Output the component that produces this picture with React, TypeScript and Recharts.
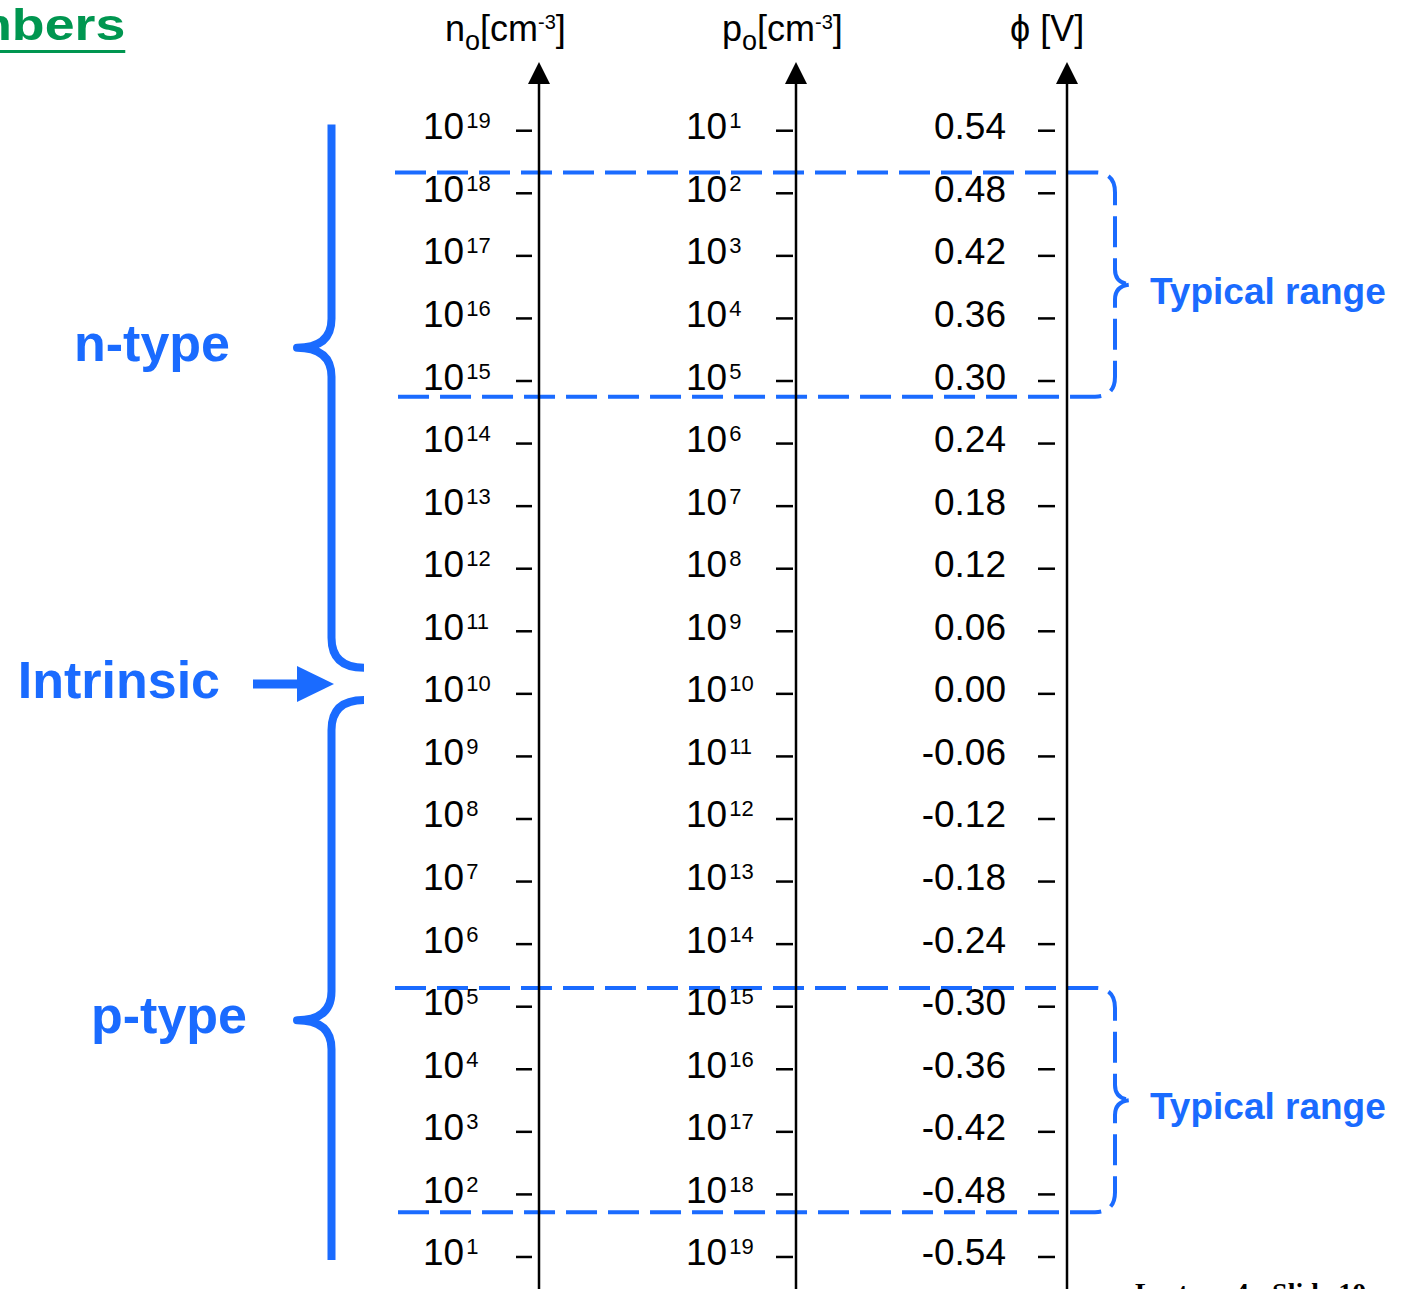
import React from 'react'
import { ComposedChart, XAxis, YAxis, ReferenceArea, ReferenceDot, Scatter } from 'recharts'

// ------------------------------------------------------------
// Equilibrium carrier numbers vs. potential: three parallel scales
// (n0, p0 and phi) sharing one vertical axis, plus the typical
// doping ranges and the n-type / p-type braces.
// ------------------------------------------------------------

// Tick columns, read top to bottom.
const N_EXPONENTS = [19, 18, 17, 16, 15, 14, 13, 12, 11, 10, 9, 8, 7, 6, 5, 4, 3, 2, 1]
const P_EXPONENTS = [1, 2, 3, 4, 5, 6, 7, 8, 9, 10, 11, 12, 13, 14, 15, 16, 17, 18, 19]
const PHI_VALUES = [
  0.54, 0.48, 0.42, 0.36, 0.3, 0.24, 0.18, 0.12, 0.06, 0,
  -0.06, -0.12, -0.18, -0.24, -0.3, -0.36, -0.42, -0.48, -0.54,
]

// Dashed "typical range" bands, in volts.
const TYPICAL_RANGES = [
  { from: 0.285, to: 0.5 },
  { from: -0.497, to: -0.282 },
]

// Doping-type braces, in volts: top end, tip, bottom end.
const DOPING_BRACES = [
  { label: 'n-type', top: 0.546, tip: 0.332, bottom: 0.025, curl: 'bottom' },
  { label: 'p-type', top: -0.006, tip: -0.313, bottom: -0.543, curl: 'top' },
]

const INTRINSIC_PHI = 0.0095

// ---- layout ----
const W = 1405
const H = 1289
const TOP = 70
const ROW_PX = 62.57
const ZERO_PX = 693.85
const AXIS_X = { n: 539, p: 796, phi: 1067 }
const RANGE_X = [395, 1115]
const RANGE_LABEL_X = 1150
const BRACE_X = [297, 364]
const ARROW_TIP_X = 334
const LABEL_GAP: Record<string, number> = { 'n-type': 67, 'p-type': 50 }

const BLUE = '#1A6BFF'
const GREEN = '#009650'
const FONT = '"Liberation Sans", Arial, Helvetica, sans-serif'

const PHI_STEP = PHI_VALUES[0] - PHI_VALUES[1]
const MID_EXP = N_EXPONENTS[PHI_VALUES.indexOf(0)]
const rowsAbove = (ZERO_PX - TOP) / ROW_PX
const rowsBelow = (H - ZERO_PX) / ROW_PX
const PHI_DOMAIN = [-rowsBelow * PHI_STEP, rowsAbove * PHI_STEP]
const N_DOMAIN = [MID_EXP - rowsBelow, MID_EXP + rowsAbove]
const P_DOMAIN = [MID_EXP - rowsAbove, MID_EXP + rowsBelow] // drawn reversed

// Label anchors for the two bands (midpoint of each band).
const RANGE_LABELS = TYPICAL_RANGES.map((r) => ({ x: RANGE_LABEL_X, phi: (r.from + r.to) / 2 }))

// Recharts sorts left axes by id: the first id sits next to the plot area.
const ID_PHI = 'a-phi'
const ID_P = 'b-p'
const ID_N = 'c-n'

interface TickProps {
  x?: number
  y?: number
  payload?: { value: number }
}

function PowerTick({ x = 0, y = 0, payload, labelDx, dash }: TickProps & { labelDx: number; dash: [number, number] }) {
  return (
    <g>
      <text x={x + labelDx} y={y + 8.5} fontSize={37} fontFamily={FONT} fill="#000">
        10
        <tspan fontSize={22} dx={2} dy={-11}>{payload?.value}</tspan>
      </text>
      <line x1={x + dash[0]} x2={x + dash[1]} y1={y} y2={y} stroke="#000" strokeWidth={2.5} />
    </g>
  )
}

function PhiTick({ x = 0, y = 0, payload }: TickProps) {
  const v = payload?.value ?? 0
  return (
    <g>
      <text x={x - 61} y={y + 8.5} fontSize={37} fontFamily={FONT} fill="#000" textAnchor="end">
        {v.toFixed(2)}
      </text>
      <line x1={x - 29} x2={x - 12} y1={y} y2={y} stroke="#000" strokeWidth={2.5} />
    </g>
  )
}

/** Arrowhead on top of the axis line plus the column header. */
function AxisHead({ viewBox, kind, fallbackX }: { viewBox?: any; kind: 'n' | 'p' | 'phi'; fallbackX: number }) {
  const ax = viewBox ? viewBox.x + viewBox.width : fallbackX
  const top = viewBox ? viewBox.y : TOP
  const base = top + 14
  const tip = top - 8
  const headY = top - 29
  return (
    <g>
      <polygon points={`${ax - 11},${base} ${ax},${tip} ${ax + 11},${base}`} fill="#000" />
      {kind === 'phi' ? (
        <text x={ax - 57} y={headY} fontSize={36} fontFamily={FONT} fill="#000">
          ϕ [V]
        </text>
      ) : (
        <text x={ax + (kind === 'n' ? -94 : -74)} y={headY} fontSize={36} fontFamily={FONT} fill="#000">
          {kind}
          <tspan fontSize={27} dy={9}>o</tspan>
          <tspan dy={-9}>[cm</tspan>
          <tspan fontSize={20} dy={-12}>-3</tspan>
          <tspan dy={12}>]</tspan>
        </text>
      )}
    </g>
  )
}

function RangeBracket(props: any) {
  const { x, y, width, height } = props
  const left = x
  const right = x + width
  const top = y
  const bottom = y + height
  const mid = y + height / 2
  const r = 20
  const nr = 15
  const nw = 18
  const d = [
    `M${left},${top}`,
    `H${right - r}`,
    `Q${right},${top} ${right},${top + r}`,
    `V${mid - nr}`,
    `Q${right},${mid} ${right + nw},${mid}`,
    `Q${right},${mid} ${right},${mid + nr}`,
    `V${bottom - r}`,
    `Q${right},${bottom} ${right - r},${bottom}`,
    `H${left}`,
  ].join(' ')
  return <path d={d} fill="none" stroke={BLUE} strokeWidth={4} strokeDasharray="31 11" />
}

function RangeLabel({ cx = 0, cy = 0 }: { cx?: number; cy?: number }) {
  return (
    <text x={cx} y={cy + 19} fontSize={37} fontWeight="bold" fontFamily={FONT} fill={BLUE}>
      Typical range
    </text>
  )
}

function DopingBrace(props: any) {
  const { x, y, width, height, tipRatio, curl, label, labelGap } = props
  const xt = x
  const x0 = x + width
  const xv = x + 34.5
  const top = y
  const bottom = y + height
  const tipY = y + height * tipRatio
  const c = 29
  const d =
    curl === 'bottom'
      ? `M${xv},${top} V${tipY - c} Q${xv},${tipY} ${xt},${tipY} Q${xv},${tipY} ${xv},${tipY + c} V${bottom - 30} Q${xv},${bottom} ${x0},${bottom}`
      : `M${x0},${top} Q${xv},${top} ${xv},${top + 30} V${tipY - c} Q${xv},${tipY} ${xt},${tipY} Q${xv},${tipY} ${xv},${tipY + c} V${bottom}`
  return (
    <g>
      <path d={d} fill="none" stroke={BLUE} strokeWidth={8} strokeLinejoin="round" />
      <text x={xt - labelGap} y={tipY + 13} textAnchor="end" fontSize={52} fontWeight="bold" fontFamily={FONT} fill={BLUE}>
        {label}
      </text>
    </g>
  )
}

function IntrinsicArrow({ cx = 0, cy = 0 }: { cx?: number; cy?: number }) {
  return (
    <g>
      <line x1={cx - 81} x2={cx - 35} y1={cy} y2={cy} stroke={BLUE} strokeWidth={9} />
      <polygon points={`${cx - 37},${cy - 18} ${cx},${cy} ${cx - 37},${cy + 18}`} fill={BLUE} />
      <text x={cx - 114} y={cy + 14} textAnchor="end" fontSize={52} fontWeight="bold" fontFamily={FONT} fill={BLUE}>
        Intrinsic
      </text>
    </g>
  )
}

const axisLine = { stroke: '#000', strokeWidth: 2.5 }

export default function App() {
  return (
    <div style={{ position: 'absolute', left: 0, top: 0, width: W, height: H, overflow: 'hidden', background: '#fff' }}>
      <div
        style={{
          position: 'absolute', top: 3, right: W - 125, whiteSpace: 'nowrap',
          fontFamily: FONT, fontWeight: 'bold', fontSize: 44, lineHeight: '44px', color: GREEN,
          textDecoration: 'underline', textUnderlineOffset: 10, textDecorationThickness: 3,
          transform: 'scaleX(1.22)', transformOrigin: 'right center',
        }}
      >
        Carrier Numbers
      </div>
      <div
        style={{
          position: 'absolute', top: 1279, left: 1135, whiteSpace: 'nowrap',
          fontFamily: '"Liberation Serif", "Times New Roman", serif', fontWeight: 'bold', fontSize: 28, lineHeight: '28px',
        }}
      >
        Lecture 4 - Slide 10
      </div>
      <ComposedChart width={W} height={H} margin={{ top: TOP, right: 0, bottom: 0, left: 0 }}>
        <XAxis type="number" dataKey="x" domain={[AXIS_X.phi, W]} allowDataOverflow hide />
        <YAxis
          yAxisId={ID_PHI}
          type="number"
          dataKey="phi"
          domain={PHI_DOMAIN}
          allowDataOverflow
          ticks={PHI_VALUES}
          interval={0}
          width={AXIS_X.phi - AXIS_X.p}
          tickSize={0}
          tickMargin={0}
          tickLine={false}
          axisLine={axisLine}
          tick={(p: any) => <PhiTick {...p} />}
          label={{ content: (lp: any) => <AxisHead viewBox={lp.viewBox} kind="phi" fallbackX={AXIS_X.phi} /> }}
        />
        <YAxis
          yAxisId={ID_P}
          type="number"
          domain={P_DOMAIN}
          reversed
          allowDataOverflow
          ticks={P_EXPONENTS}
          interval={0}
          width={AXIS_X.p - AXIS_X.n}
          tickSize={0}
          tickMargin={0}
          tickLine={false}
          axisLine={axisLine}
          tick={(p: any) => <PowerTick {...p} labelDx={-110} dash={[-20, -3]} />}
          label={{ content: (lp: any) => <AxisHead viewBox={lp.viewBox} kind="p" fallbackX={AXIS_X.p} /> }}
        />
        <YAxis
          yAxisId={ID_N}
          type="number"
          domain={N_DOMAIN}
          allowDataOverflow
          ticks={N_EXPONENTS}
          interval={0}
          width={AXIS_X.n}
          tickSize={0}
          tickMargin={0}
          tickLine={false}
          axisLine={axisLine}
          tick={(p: any) => <PowerTick {...p} labelDx={-116} dash={[-23, -7]} />}
          label={{ content: (lp: any) => <AxisHead viewBox={lp.viewBox} kind="n" fallbackX={AXIS_X.n} /> }}
        />
        {TYPICAL_RANGES.map((r, i) => (
          <ReferenceArea
            key={`range-${i}`}
            yAxisId={ID_PHI}
            x1={RANGE_X[0]}
            x2={RANGE_X[1]}
            y1={r.from}
            y2={r.to}
            ifOverflow="visible"
            shape={(p: any) => <RangeBracket {...p} />}
          />
        ))}
        {DOPING_BRACES.map((b) => (
          <ReferenceArea
            key={b.label}
            yAxisId={ID_PHI}
            x1={BRACE_X[0]}
            x2={BRACE_X[1]}
            y1={b.bottom}
            y2={b.top}
            ifOverflow="visible"
            shape={(p: any) => (
              <DopingBrace
                {...p}
                tipRatio={(b.top - b.tip) / (b.top - b.bottom)}
                curl={b.curl}
                label={b.label}
                labelGap={LABEL_GAP[b.label]}
              />
            )}
          />
        ))}
        <ReferenceDot
          yAxisId={ID_PHI}
          x={ARROW_TIP_X}
          y={INTRINSIC_PHI}
          r={0}
          ifOverflow="visible"
          shape={(p: any) => <IntrinsicArrow cx={p.cx} cy={p.cy} />}
        />
        <Scatter
          yAxisId={ID_PHI}
          data={RANGE_LABELS}
          dataKey="phi"
          isAnimationActive={false}
          shape={(p: any) => <RangeLabel cx={p.cx} cy={p.cy} />}
        />
      </ComposedChart>
    </div>
  )
}
